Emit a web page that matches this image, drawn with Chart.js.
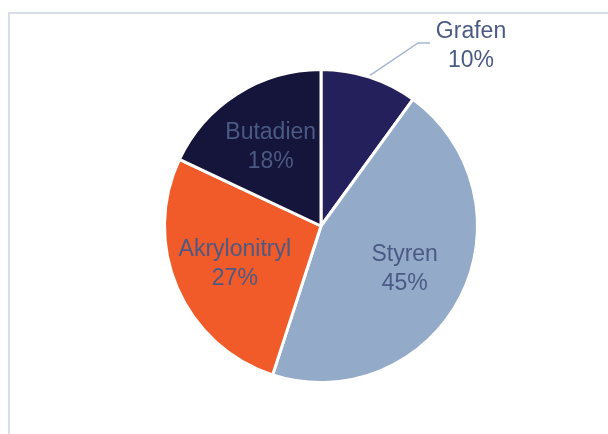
<!DOCTYPE html>
<html>
<head>
<meta charset="utf-8">
<script src="https://cdn.jsdelivr.net/npm/chart.js@4.4.0/dist/chart.umd.min.js"></script>
<style>
  html, body { margin: 0; padding: 0; background: #fff; overflow: hidden; }
  #wrap { position: relative; width: 608px; height: 434px; }
  #frame { position: absolute; left: 8px; top: 12px; width: 640px; height: 460px;
           border: 2px solid #D9DDEB; box-sizing: border-box; }
  canvas { position: absolute; left: 0; top: 0; }
</style>
</head>
<body>
<div id="wrap">
  <div id="frame"></div>
  <canvas id="pie" width="608" height="434"></canvas>
</div>
<script>
const labels = ['Grafen', 'Styren', 'Akrylonitryl', 'Butadien'];
const shares = [10, 45, 27, 18];
const colors = ['#24205B', '#94AAC9', '#F15A29', '#15143A'];
const textColor = '#4A5A85';

// data labels: inside slices, Grafen outside with a leader line
const pieLabels = {
  id: 'pieLabels',
  afterDatasetsDraw(chart) {
    const ctx = chart.ctx;
    const arcs = chart.getDatasetMeta(0).data;
    ctx.save();
    ctx.font = '23px "Liberation Sans", Arial, sans-serif';
    ctx.fillStyle = textColor;
    ctx.textAlign = 'center';
    ctx.textBaseline = 'middle';
    arcs.forEach((arc, i) => {
      const p = arc.getProps(['x', 'y', 'startAngle', 'endAngle', 'outerRadius'], true);
      const mid = (p.startAngle + p.endAngle) / 2;
      const R = p.outerRadius;
      const txt = [labels[i], shares[i] + '%'];
      if (i === 0) {
        const sx = p.x + Math.cos(mid) * (R + 2);
        const sy = p.y + Math.sin(mid) * (R + 2);
        const ex = p.x + R * 0.62, ey = p.y - R * 1.17;
        ctx.strokeStyle = '#A6B6D2';
        ctx.lineWidth = 1.5;
        ctx.beginPath();
        ctx.moveTo(sx, sy);
        ctx.lineTo(ex, ey);
        ctx.lineTo(ex + 12, ey);
        ctx.stroke();
        const tx = ex + 53, ty = ey + 3;
        ctx.fillText(txt[0], tx, ty - 14);
        ctx.fillText(txt[1], tx, ty + 15);
      } else {
        const cx = p.x + Math.cos(mid) * R * 0.6;
        const cy = p.y + Math.sin(mid) * R * 0.6;
        ctx.fillText(txt[0], cx, cy - 14);
        ctx.fillText(txt[1], cx, cy + 15);
      }
    });
    ctx.restore();
  }
};

new Chart(document.getElementById('pie'), {
  type: 'pie',
  data: {
    labels: labels,
    datasets: [{
      data: shares,
      backgroundColor: colors,
      borderColor: '#ffffff',
      borderWidth: 3
    }]
  },
  options: {
    responsive: false,
    animation: false,
    layout: { padding: { top: 68, bottom: 50, left: 100, right: 66 } },
    plugins: {
      legend: { display: false },
      tooltip: { enabled: false }
    }
  },
  plugins: [pieLabels]
});
</script>
</body>
</html>
